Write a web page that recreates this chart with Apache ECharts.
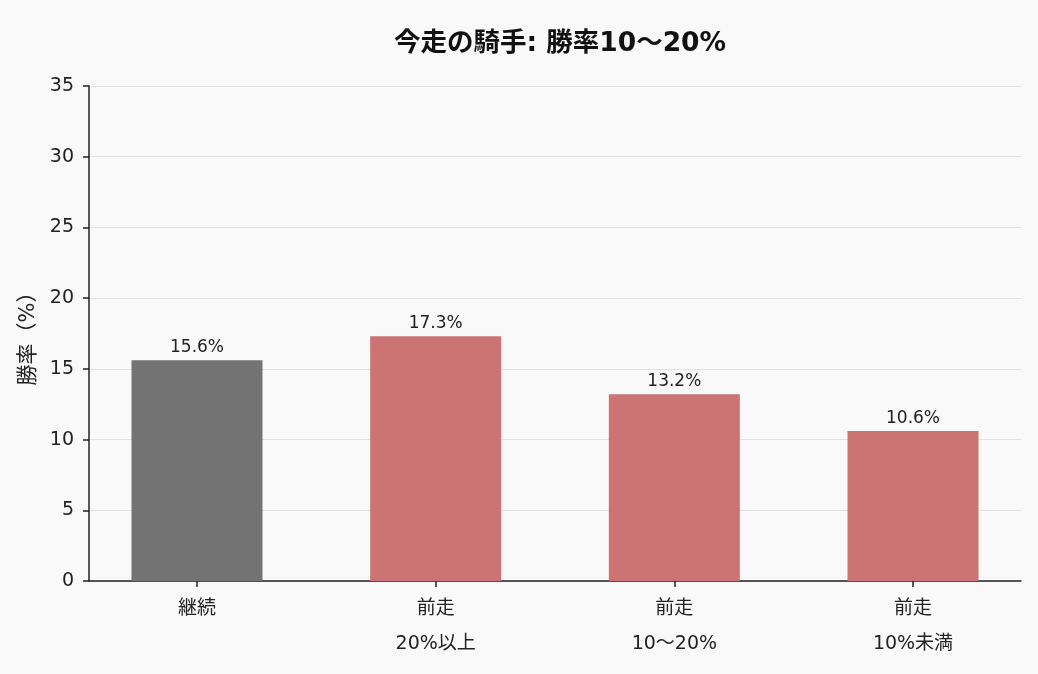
<!DOCTYPE html>
<html lang="ja">
<head>
    <meta charset="UTF-8">
    <title>chart</title>
    <script src="https://cdn.jsdelivr.net/npm/echarts@6/dist/echarts.min.js"></script>
    <style>
        html, body {
            margin: 0;
            height: 100%;
            background: #f9f9f9;
        }
        #app {
            width: 1038px;
            height: 674px;
        }
    </style>
</head>
<body>
<div id="app"></div>
<script>
    var categories = ['継続', '前走\n20%以上', '前走\n10〜20%', '前走\n10%未満'];
    var winRates = [15.6, 17.3, 13.2, 10.6];
    var barColors = ['#737373', '#cc7373', '#cc7373', '#cc7373'];
    var yTicks = [0, 5, 10, 15, 20, 25, 30, 35];

    var font = "'DejaVu Sans', 'Noto Sans CJK JP', sans-serif";
    var positions = categories.map(function (c, i) { return i; });

    var barData = winRates.map(function (v, i) {
        return {value: [i, v], itemStyle: {color: barColors[i]}};
    });

    var option = {
        backgroundColor: '#f9f9f9',
        animation: false,
        textStyle: {fontFamily: font},
        title: {
            text: '今走の騎手: 勝率10〜20%',
            left: 555,
            textAlign: 'center',
            top: 26,
            textStyle: {fontFamily: font, fontSize: 26.5, fontWeight: 'bold', color: '#111'}
        },
        grid: {left: 89, right: 17, top: 86, bottom: 93},
        xAxis: {
            type: 'value',
            min: -0.4525,
            max: 3.4525,
            axisLine: {onZero: false, lineStyle: {color: '#222', width: 1.5}},
            axisTick: {show: true, customValues: positions, length: 6, lineStyle: {color: '#222', width: 1.5}},
            axisLabel: {
                customValues: positions,
                formatter: function (v) { return categories[Math.round(v)]; },
                color: '#222',
                fontSize: 19,
                lineHeight: 35,
                margin: 11,
                fontFamily: font
            },
            splitLine: {show: false}
        },
        yAxis: {
            type: 'value',
            min: yTicks[0],
            max: yTicks[yTicks.length - 1],
            interval: 5,
            name: '勝率（%）',
            nameLocation: 'middle',
            nameGap: 46,
            nameTextStyle: {fontSize: 21, color: '#222', fontFamily: font},
            axisLine: {show: true, onZero: false, lineStyle: {color: '#222', width: 1.5}},
            axisTick: {show: true, length: 6, lineStyle: {color: '#222', width: 1.5}},
            axisLabel: {fontSize: 19, color: '#222', margin: 15, padding: [3, 0, 0, 0], fontFamily: font},
            splitLine: {lineStyle: {color: '#e3e3e3', width: 1}}
        },
        series: [{
            type: 'bar',
            data: barData,
            barWidth: 131,
            label: {
                show: true,
                position: 'top',
                distance: 4,
                fontSize: 17,
                color: '#222',
                fontFamily: font,
                formatter: function (p) { return p.value[1].toFixed(1) + '%'; }
            }
        }]
    };

    var myChart = echarts.init(document.getElementById('app'));
    myChart.setOption(option);
</script>
</body>
</html>
